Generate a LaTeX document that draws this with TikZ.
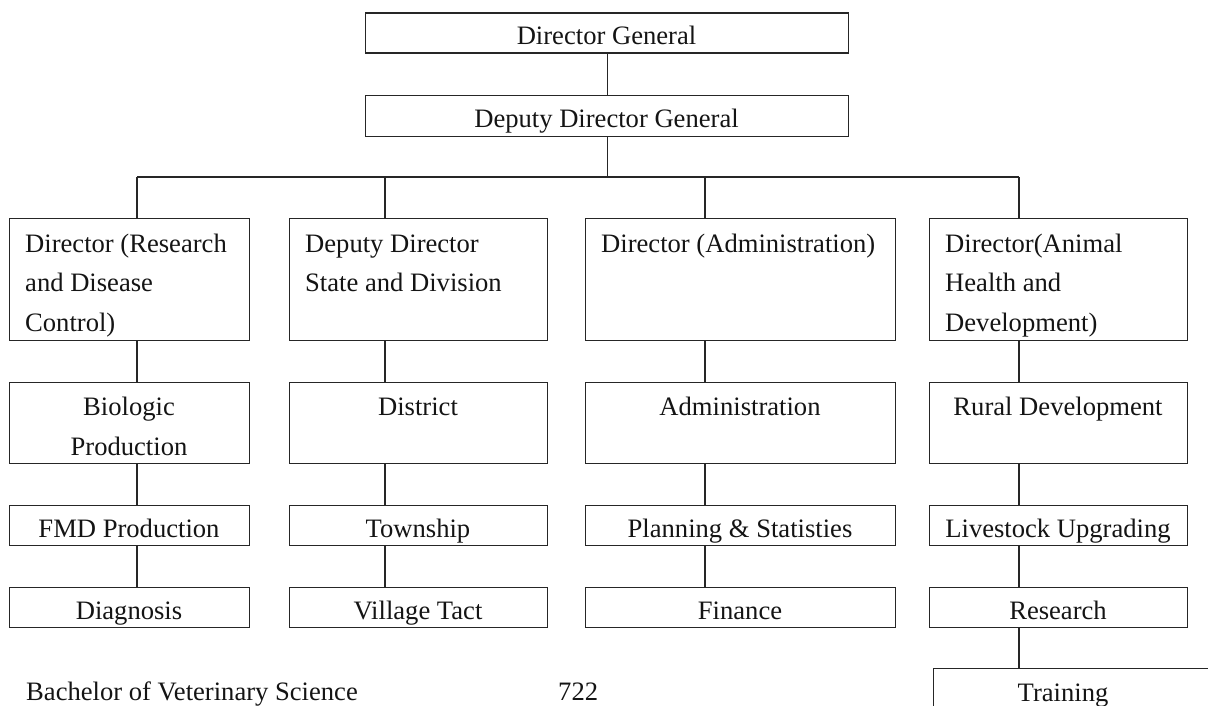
\documentclass[tikz,border=0pt]{standalone}
\usepackage{fontspec}
\setmainfont{Liberation Serif}
\begin{document}
\begin{tikzpicture}[x=1pt,y=-1pt,
  box/.style={draw=black!85, line width=1.3pt, inner sep=0pt, anchor=north west},
  wire/.style={draw=black!85, line width=1.1pt},
  lbl/.style={inner sep=0pt, text=black!92, font=\fontsize{26.6}{39.5}\selectfont},
  lblc/.style={lbl, anchor=base},
  lblw/.style={lbl, anchor=base west, align=left},
]
\useasboundingbox (0,0) rectangle (1208,706);
\clip (0,0) rectangle (1208,706);

% top of the hierarchy
\node[box, minimum width=483, minimum height=40] (dg)  at (365,12.5) {};
\node[box, minimum width=483, minimum height=41] (ddg) at (365,95) {};
\node[lblc] (tdg)  at (606.5,45)  {Director General};
\node[lblc] (tddg) at (606.5,128) {Deputy Director General};

% bus junctions, one per column
\coordinate (k1) at (137,177);
\coordinate (k2) at (385,177);
\coordinate (k3) at (705,177);
\coordinate (k4) at (1019,177);

% row 1: directors (multi-line texts are anchored on their last line)
\node[box, minimum width=240, minimum height=122] (a1) at (9,218) {};
\node[box, minimum width=258, minimum height=122] (b1) at (289,218) {};
\node[box, minimum width=310, minimum height=122] (c1) at (585,218) {};
\node[box, minimum width=258, minimum height=122] (d1) at (929,218) {};
\node[lblw] (ta1) at (25,331)    {Director (Research\\and Disease\\Control)};
\node[lblw] (tb1) at (305,291.5) {Deputy Director\\State and Division};
\node[lblw] (tc1) at (601,252)   {Director (Administration)};
\node[lblw] (td1) at (945,331)   {Director(Animal\\Health and\\Development)};

% row 2
\node[box, minimum width=240, minimum height=81] (a2) at (9,382) {};
\node[box, minimum width=258, minimum height=81] (b2) at (289,382) {};
\node[box, minimum width=310, minimum height=81] (c2) at (585,382) {};
\node[box, minimum width=258, minimum height=81] (d2) at (929,382) {};
\node[lblc] (ta2) at (129,415)  {Biologic};
\node[lblc] (ta2b) at (129,455) {Production};
\node[lblc] (tb2) at (418,415)  {District};
\node[lblc] (tc2) at (740,415)  {Administration};
\node[lblc] (td2) at (1058,415) {Rural Development};

% row 3
\node[box, minimum width=240, minimum height=40] (a3) at (9,505) {};
\node[box, minimum width=258, minimum height=40] (b3) at (289,505) {};
\node[box, minimum width=310, minimum height=40] (c3) at (585,505) {};
\node[box, minimum width=258, minimum height=40] (d3) at (929,505) {};
\node[lblc] (ta3) at (129,537)  {FMD Production};
\node[lblc] (tb3) at (418,537)  {Township};
\node[lblc] (tc3) at (740,537)  {Planning \& Statisties};
\node[lblc] (td3) at (1058,537) {Livestock Upgrading};

% row 4
\node[box, minimum width=240, minimum height=40] (a4) at (9,587) {};
\node[box, minimum width=258, minimum height=40] (b4) at (289,587) {};
\node[box, minimum width=310, minimum height=40] (c4) at (585,587) {};
\node[box, minimum width=258, minimum height=40] (d4) at (929,587) {};
\node[lblc] (ta4) at (129,619)  {Diagnosis};
\node[lblc] (tb4) at (418,619)  {Village Tact};
\node[lblc] (tc4) at (740,619)  {Finance};
\node[lblc] (td4) at (1058,619) {Research};

% row 5, running off the lower edge
\node[box, minimum width=290, minimum height=60] (d5) at (933,668) {};
\node[lblc] (td5) at (1063,701) {Training};

% footer line
\node[lblw] (foot) at (26,700) {Bachelor of Veterinary Science};
\node[lblw] (page) at (558,700) {722};

% connectors
\draw[wire] (dg.south) -- (ddg.north);
\draw[wire] (ddg.south) -- (ddg.south |- k1);
\draw[wire] (k1) -- (k4);
\draw[wire] (k1) -- (k1 |- a1.north);
\draw[wire] (k2) -- (k2 |- b1.north);
\draw[wire] (k3) -- (k3 |- c1.north);
\draw[wire] (k4) -- (k4 |- d1.north);

\draw[wire] (a1.south -| k1) -- (a2.north -| k1);
\draw[wire] (a2.south -| k1) -- (a3.north -| k1);
\draw[wire] (a3.south -| k1) -- (a4.north -| k1);

\draw[wire] (b1.south -| k2) -- (b2.north -| k2);
\draw[wire] (b2.south -| k2) -- (b3.north -| k2);
\draw[wire] (b3.south -| k2) -- (b4.north -| k2);

\draw[wire] (c1.south -| k3) -- (c2.north -| k3);
\draw[wire] (c2.south -| k3) -- (c3.north -| k3);
\draw[wire] (c3.south -| k3) -- (c4.north -| k3);

\draw[wire] (d1.south -| k4) -- (d2.north -| k4);
\draw[wire] (d2.south -| k4) -- (d3.north -| k4);
\draw[wire] (d3.south -| k4) -- (d4.north -| k4);
\draw[wire] (d4.south -| k4) -- (d5.north -| k4);
\end{tikzpicture}
\end{document}
